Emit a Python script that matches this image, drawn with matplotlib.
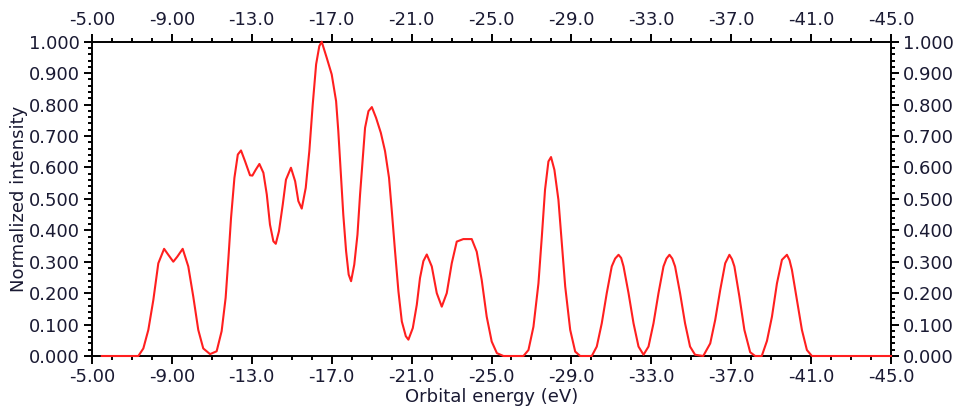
import matplotlib
matplotlib.use("Agg")
import matplotlib.pyplot as plt
from matplotlib.ticker import MultipleLocator, FormatStrFormatter

# spectrum (orbital energy in eV, normalized intensity)
energy = [-5.49, -7.32, -7.57, -7.82, -8.07, -8.32, -8.61, -8.82, -9.07, -9.27,
          -9.54, -9.82, -10.07, -10.32, -10.57, -10.91,
          -11.24, -11.49, -11.69, -11.83, -11.96, -12.13, -12.30, -12.46, -12.66, -12.91,
          -13.03, -13.20, -13.38, -13.58, -13.75, -13.91, -14.08, -14.20, -14.36, -14.55,
          -14.71, -14.96, -15.17, -15.33, -15.50, -15.70, -15.88, -16.05, -16.22, -16.38,
          -16.50, -16.75, -17.00, -17.22, -17.33, -17.45, -17.58, -17.72, -17.85, -17.97,
          -18.13, -18.29, -18.42, -18.56, -18.67, -18.84, -19.01, -19.22, -19.46, -19.67,
          -19.87, -20.01, -20.17, -20.34, -20.51, -20.71, -20.84, -21.06, -21.26, -21.42,
          -21.59, -21.76,
          -22.01, -22.26, -22.51, -22.76, -23.01, -23.26, -23.59, -24.01, -24.26,
          -24.51, -24.76, -25.01, -25.27, -25.60, -26.60, -26.85, -27.10, -27.35, -27.52,
          -27.68, -27.85, -27.98, -28.15, -28.35, -28.52, -28.69, -28.94, -29.19, -29.44,
          -30.02, -30.27, -30.52, -30.77, -31.02, -31.19, -31.36, -31.49, -31.61, -31.86,
          -32.11, -32.36, -32.61, -32.86, -33.11, -33.36, -33.61, -33.76, -33.91, -34.05,
          -34.19, -34.44, -34.69, -34.94, -35.19, -35.60, -35.95, -36.20, -36.45, -36.70,
          -36.91, -37.04, -37.16, -37.41, -37.66, -37.95, -38.20, -38.53, -38.79, -39.04,
          -39.29, -39.54, -39.79, -39.92, -40.04, -40.29, -40.54, -40.79, -41.04, -45.00]

intensity = [0, 0, 0.024, 0.083, 0.178, 0.295, 0.341, 0.322, 0.300, 0.316,
             0.341, 0.285, 0.189, 0.083, 0.024, 0.006,
             0.015, 0.079, 0.185, 0.312, 0.439, 0.567, 0.641, 0.654, 0.620, 0.575,
             0.574, 0.593, 0.611, 0.583, 0.514, 0.418, 0.365, 0.357, 0.397, 0.482,
             0.561, 0.599, 0.556, 0.493, 0.469, 0.535, 0.652, 0.800, 0.928, 0.986,
             1.000, 0.949, 0.896, 0.811, 0.716, 0.588, 0.450, 0.334, 0.259, 0.238,
             0.291, 0.386, 0.514, 0.631, 0.726, 0.779, 0.792, 0.758, 0.710, 0.652,
             0.567, 0.461, 0.334, 0.206, 0.110, 0.063, 0.052, 0.089, 0.163, 0.248,
             0.302, 0.323,
             0.285, 0.200, 0.157, 0.200, 0.295, 0.364, 0.372, 0.372, 0.332,
             0.242, 0.125, 0.046, 0.009, 0, 0, 0.019, 0.093, 0.231, 0.380,
             0.529, 0.619, 0.633, 0.592, 0.497, 0.359, 0.221, 0.083, 0.014, 0,
             0, 0.030, 0.104, 0.200, 0.285, 0.310, 0.322, 0.312, 0.285, 0.200,
             0.104, 0.030, 0.004, 0.030, 0.104, 0.200, 0.285, 0.310, 0.322, 0.310,
             0.285, 0.200, 0.104, 0.030, 0.004, 0, 0.040, 0.115, 0.210, 0.295,
             0.322, 0.308, 0.285, 0.189, 0.083, 0.012, 0, 0, 0.048, 0.125,
             0.231, 0.306, 0.322, 0.305, 0.274, 0.178, 0.083, 0.019, 0, 0]

xticks = list(range(-5, -46, -4))

text_col = "#1a1a33"

fig = plt.figure(figsize=(9.6, 4.09), dpi=100)
ax = fig.add_axes([92 / 960, 1 - 356 / 409, 799 / 960, 314.3 / 409])

ax.plot(energy, intensity, color="#ff1f1f", lw=1.5, clip_on=False, zorder=5)

ax.set_xlim(-5, -45)
ax.set_ylim(0, 1)
ax.set_xticks(xticks)
ax.xaxis.set_minor_locator(MultipleLocator(1))
ax.yaxis.set_major_locator(MultipleLocator(0.1))
ax.yaxis.set_minor_locator(MultipleLocator(0.02))
ax.xaxis.set_major_formatter(FormatStrFormatter("%#.3g"))
ax.yaxis.set_major_formatter(FormatStrFormatter("%.3f"))

for s in ax.spines.values():
    s.set_linewidth(1.4)
ax.tick_params(which="both", direction="out", top=True, right=True,
               labeltop=True, labelright=True, labelsize=13,
               labelcolor=text_col, width=1.4)
ax.tick_params(which="major", length=5.8, pad=3)
ax.tick_params(which="minor", length=2.9)

fig.text(491.5 / 960, 1 - 397 / 409, "Orbital energy (eV)", ha="center",
         va="center", fontsize=13, color=text_col)
fig.text(19 / 960, 1 - 199 / 409, "Normalized intensity", ha="center",
         va="center", rotation=90, fontsize=13, color=text_col)

fig.savefig("out.png", dpi=100)
